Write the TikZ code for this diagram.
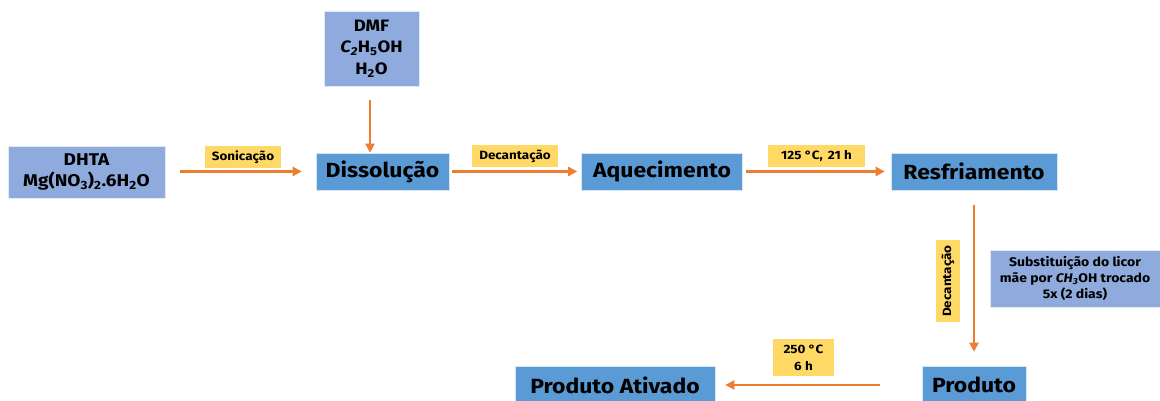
\documentclass[tikz,border=0pt]{standalone}
\usepackage{fontspec}
\setmainfont{Fira Sans}[FakeStretch=1.12]
\usetikzlibrary{arrows.meta}
\definecolor{mainblue}{HTML}{5B9BD5}
\definecolor{inblue}{HTML}{8FAADC}
\definecolor{lblyellow}{HTML}{FFD966}
\definecolor{arrorange}{HTML}{ED7D31}
\tikzset{
  stage/.style={fill=mainblue, draw=white!75!mainblue, line width=0.6pt, inner sep=0pt,
    font=\fontsize{20.5}{22}\selectfont\bfseries, text=black},
  inbox/.style={fill=inblue, draw=white!75!inblue, line width=0.6pt, inner sep=0pt, align=center, text=black},
  lbl/.style={fill=lblyellow, draw=none, inner sep=0pt, align=center,
    font=\fontsize{12}{17}\selectfont\bfseries, text=black},
  arr/.style={draw=arrorange, line width=2.6pt, -{Triangle[length=9pt,width=9pt]}},
}
\begin{document}
\begin{tikzpicture}[x=1pt,y=-1pt]
\useasboundingbox (0,0) rectangle (1160,401);
% inputs
\node[inbox, minimum width=157, minimum height=52, font=\fontsize{17}{21}\selectfont\bfseries] (dhta) at (86.5,172) {DHTA\\Mg(NO\textsubscript{3})\textsubscript{2}.6H\textsubscript{2}O};
\node[inbox, minimum width=95, minimum height=75, font=\fontsize{16.5}{21.5}\selectfont\bfseries] (dmf) at (371.5,48.5) {DMF\\\itshape C\textsubscript{2}\upshape H\textsubscript{5}OH\\H\textsubscript{2}O};
\node[inbox, minimum width=170, minimum height=57, font=\fontsize{12.5}{16}\selectfont\bfseries] (sub) at (1075,278.5) {Substituição do licor\\mãe por \itshape CH\textsubscript{3}\upshape OH trocado\\5x (2 dias)};
% stages
\node[stage, minimum width=133, minimum height=37] (dis) at (382.5,171.5) {Dissolução};
\node[stage, minimum width=161, minimum height=37] (aq) at (662,171.5) {Aquecimento};
\node[stage, minimum width=166, minimum height=37] (res) at (974,171.5) {Resfriamento};
\node[stage, minimum width=104, minimum height=38] (prod) at (974,385) {Produto};
\node[stage, minimum width=200, minimum height=38] (pa) at (615,385) {Produto Ativado};
% labels
\node[lbl, minimum width=76, minimum height=22] (son) at (243,157) {Sonicação};
\node[lbl, minimum width=86, minimum height=22] (dec1) at (515,156) {Decantação};
\node[lbl, minimum width=97, minimum height=22] (temp) at (816.5,156) {125 °C,\, 21 h};
\node[lbl, minimum width=24, minimum height=82] (decv) at (948,281) {\rotatebox{90}{Decantação}};
\node[lbl, minimum width=61, minimum height=37] (l250) at (803.5,357.5) {250 °C\\6 h};
% connectors
\draw[arr, shorten <=15pt, shorten >=14pt] (dhta.east |- dis.west) -- (dis.west);
\draw[arr, shorten <=14pt] ([xshift=-1.5pt]dmf.south) -- ([xshift=-1.5pt]dmf.south |- dis.north);
\draw[arr, shorten <=3pt, shorten >=4pt] (dis) -- (aq);
\draw[arr, shorten <=3pt, shorten >=6pt] (aq) -- (res);
\draw[arr, shorten <=15pt, shorten >=14pt] (res) -- (prod);
\draw[arr, shorten <=42pt, shorten >=10pt] (prod) -- (pa);
\end{tikzpicture}
\end{document}
